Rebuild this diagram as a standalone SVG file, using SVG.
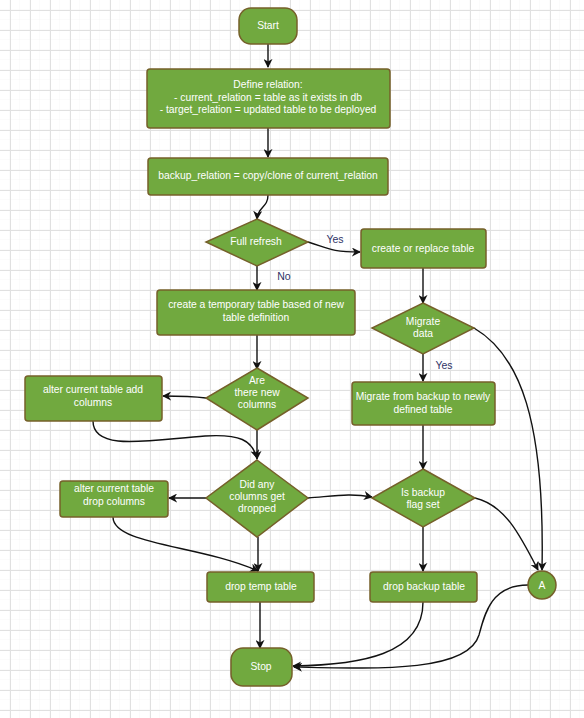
<svg xmlns="http://www.w3.org/2000/svg" width="584" height="718" viewBox="0 0 584 718">
  <defs>
    <pattern id="gridMinor" width="10" height="10" patternUnits="userSpaceOnUse" x="0" y="0">
      <path d="M10,0 V10 M0,10 H10" fill="none" stroke="#f6f6f6" stroke-width="1"/>
    </pattern>
    <pattern id="gridMajor" width="20" height="20" patternUnits="userSpaceOnUse" x="10" y="10">
      <path d="M0.5,0 V20 M0,0.5 H20" fill="none" stroke="#e0e0e0" stroke-width="1"/>
    </pattern>
    <marker id="arrow" viewBox="0 0 10 10" refX="9" refY="5" markerWidth="9" markerHeight="9" markerUnits="userSpaceOnUse" orient="auto">
      <path d="M0,0 L10,5 L0,10 L3,5 Z" fill="#111"/>
    </marker>
    <style>
      .shape { fill: #71a93f; stroke: #75602a; stroke-width: 1.5; }
      .txt { font-family: "Liberation Sans", Arial, sans-serif; font-size: 10.3px; fill: #ffffff; text-anchor: middle; }
      .lbl { font-family: "Liberation Sans", Arial, sans-serif; font-size: 10.5px; fill: #2f3366; text-anchor: middle; }
      .edge { fill: none; stroke: #111; stroke-width: 1.4; marker-end: url(#arrow); }
    </style>
  </defs>

  <!-- background grid -->
  <rect x="0" y="0" width="584" height="718" fill="#ffffff"/>
  <rect x="0" y="0" width="584" height="718" fill="url(#gridMinor)"/>
  <rect x="0" y="0" width="584" height="718" fill="url(#gridMajor)"/>

  <!-- connectors -->
  <g id="connectors">
    <path class="edge" d="M268,44 V67"/>
    <path class="edge" d="M268,128 V157"/>
    <path class="edge" d="M268,195 C268,208 258,206 257,219"/>
    <path class="edge" d="M308,242 C328,248 330,252 360,252"/>
    <path class="edge" d="M257,266 V290"/>
    <path class="edge" d="M257,335 V369"/>
    <path class="edge" d="M206,398 C190,396 180,396 163,396"/>
    <path class="edge" d="M93,421 C93,452 150,440 205,436 C240,434 252,440 257,458"/>
    <path class="edge" d="M257,430 V459"/>
    <path class="edge" d="M206,498 H169"/>
    <path class="edge" d="M113,517 C113,545 200,545 258,571"/>
    <path class="edge" d="M258,537 V571"/>
    <path class="edge" d="M308,498 C335,496 350,493 372,497"/>
    <path class="edge" d="M423,268 V303"/>
    <path class="edge" d="M423,354 V381"/>
    <path class="edge" d="M423,425 V469"/>
    <path class="edge" d="M474,328 C520,355 545,420 542,570"/>
    <path class="edge" d="M475,498 C505,505 520,535 538,570"/>
    <path class="edge" d="M423,527 V571"/>
    <path class="edge" d="M260,602 V648"/>
    <path class="edge" d="M423,602 C423,655 360,665 293,666"/>
    <path class="edge" d="M528,585 C492,585 485,612 479,635 C468,672 380,669 294,667"/>
  </g>

  <!-- edge labels -->
  <text class="lbl" x="335" y="243">Yes</text>
  <text class="lbl" x="284" y="280">No</text>
  <text class="lbl" x="444" y="369">Yes</text>

  <g id="start">
    <rect class="shape" x="239" y="8" width="58" height="36" rx="12"/>
    <text class="txt" x="268" y="29">Start</text>
  </g>

  <g id="define-relation">
    <rect class="shape" x="147" y="69" width="243" height="59" rx="3"/>
    <text class="txt" x="268" y="88">Define relation:</text>
    <text class="txt" x="268" y="101">- current_relation = table as it exists in db</text>
    <text class="txt" x="268" y="113">- target_relation = updated table to be deployed</text>
  </g>

  <g id="backup-relation">
    <rect class="shape" x="148" y="158" width="240" height="37" rx="3"/>
    <text class="txt" x="268" y="179">backup_relation = copy/clone of current_relation</text>
  </g>

  <g id="full-refresh">
    <polygon class="shape" points="257,219 308,242 257,266 206,242"/>
    <text class="txt" x="256" y="245">Full refresh</text>
  </g>

  <g id="create-or-replace">
    <rect class="shape" x="361" y="229" width="125" height="39" rx="3"/>
    <text class="txt" x="423" y="252">create or replace table</text>
  </g>

  <g id="create-temp">
    <rect class="shape" x="157" y="290" width="198" height="45" rx="3"/>
    <text class="txt" x="256" y="308">create a temporary table based of new</text>
    <text class="txt" x="256" y="321">table definition</text>
  </g>

  <g id="migrate-data">
    <polygon class="shape" points="423,303 474,328 423,354 372,328"/>
    <text class="txt" x="423" y="325">Migrate</text>
    <text class="txt" x="423" y="337">data</text>
  </g>

  <g id="new-columns">
    <polygon class="shape" points="257,368 308,398 257,430 206,398"/>
    <text class="txt" x="257" y="384">Are</text>
    <text class="txt" x="257" y="396">there new</text>
    <text class="txt" x="257" y="408">columns</text>
  </g>

  <g id="alter-add">
    <rect class="shape" x="25" y="376" width="137" height="45" rx="3"/>
    <text class="txt" x="93" y="393">alter current table add</text>
    <text class="txt" x="93" y="406">columns</text>
  </g>

  <g id="migrate-backup">
    <rect class="shape" x="352" y="382" width="143" height="43" rx="3"/>
    <text class="txt" x="423" y="400">Migrate from backup to newly</text>
    <text class="txt" x="423" y="413">defined table</text>
  </g>

  <g id="columns-dropped">
    <polygon class="shape" points="257,460 308,498 257,537 206,498"/>
    <text class="txt" x="257" y="488">Did any</text>
    <text class="txt" x="257" y="500">columns get</text>
    <text class="txt" x="257" y="512">dropped</text>
  </g>

  <g id="alter-drop">
    <rect class="shape" x="60" y="481" width="108" height="36" rx="3"/>
    <text class="txt" x="114" y="492">alter current table</text>
    <text class="txt" x="114" y="505">drop columns</text>
  </g>

  <g id="backup-flag">
    <polygon class="shape" points="423,469 475,498 423,527 372,498"/>
    <text class="txt" x="423" y="496">Is backup</text>
    <text class="txt" x="423" y="508">flag set</text>
  </g>

  <g id="drop-temp">
    <rect class="shape" x="207" y="572" width="107" height="30" rx="3"/>
    <text class="txt" x="261" y="590">drop temp table</text>
  </g>

  <g id="drop-backup">
    <rect class="shape" x="370" y="572" width="107" height="30" rx="3"/>
    <text class="txt" x="424" y="590">drop backup table</text>
  </g>

  <g id="connector-a">
    <circle class="shape" cx="542" cy="585" r="14"/>
    <text class="txt" x="542" y="589">A</text>
  </g>

  <g id="stop">
    <rect class="shape" x="231" y="648" width="61" height="38" rx="12"/>
    <text class="txt" x="261" y="670">Stop</text>
  </g>
</svg>
